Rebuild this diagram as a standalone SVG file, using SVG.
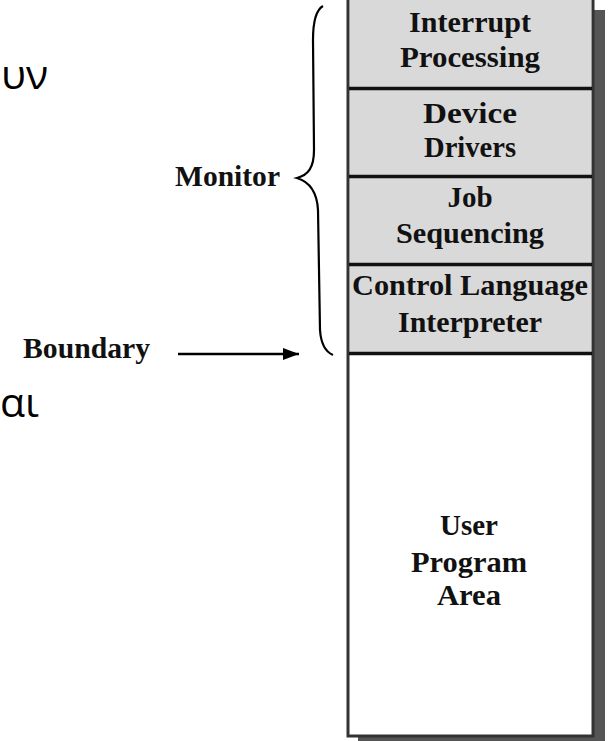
<svg xmlns="http://www.w3.org/2000/svg" width="609" height="741" viewBox="0 0 609 741">
<defs>
<marker id="ah" viewBox="0 0 16 12" refX="16" refY="6" markerWidth="16" markerHeight="12" markerUnits="userSpaceOnUse" orient="auto">
<path d="M0,0 L16,6 L0,12 Z" fill="#000"/>
</marker>
</defs>
<style>
.lbl{font-family:"Liberation Serif","Times New Roman",serif;font-weight:bold;font-size:29px;fill:#111;text-anchor:middle}
.side{font-family:"Liberation Serif","Times New Roman",serif;font-weight:bold;font-size:29px;fill:#111}
.greek{font-family:"Open Sans","Noto Sans",sans-serif;font-size:41px;fill:#000}
.seg{fill:#d9d9d9}
.div{stroke:#111;stroke-width:3.5}
</style>
<rect width="609" height="741" fill="#fff"/>
<text class="greek" x="1" y="89">υν</text>
<text class="greek" x="0" y="417">αι</text>
<g id="shadow"><rect x="358" y="10" width="247" height="731" fill="#555"/></g>
<g id="memory">
<rect x="348" y="-10" width="245" height="746" fill="#fff" stroke="#333" stroke-width="3"/>
</g>
<g id="interrupt-processing">
<rect class="seg" x="350" y="-10" width="241" height="98"/>
<text class="lbl" x="470" y="32" textLength="122" lengthAdjust="spacingAndGlyphs">Interrupt</text>
<text class="lbl" x="470" y="67" textLength="140" lengthAdjust="spacingAndGlyphs">Processing</text>
</g>
<g id="device-drivers">
<rect class="seg" x="350" y="89" width="241" height="88"/>
<text class="lbl" x="470" y="123" textLength="94" lengthAdjust="spacingAndGlyphs">Device</text>
<text class="lbl" x="470" y="157" textLength="92" lengthAdjust="spacingAndGlyphs">Drivers</text>
</g>
<g id="job-sequencing">
<rect class="seg" x="350" y="177" width="241" height="88"/>
<text class="lbl" x="470" y="207">Job</text>
<text class="lbl" x="470" y="243" textLength="148" lengthAdjust="spacingAndGlyphs">Sequencing</text>
</g>
<g id="control-language-interpreter">
<rect class="seg" x="350" y="265" width="241" height="89"/>
<text class="lbl" x="470" y="295" textLength="236" lengthAdjust="spacingAndGlyphs">Control Language</text>
<text class="lbl" x="470" y="332" textLength="144" lengthAdjust="spacingAndGlyphs">Interpreter</text>
</g>
<g id="dividers">
<line class="div" x1="349" y1="88.5" x2="592" y2="88.5"/>
<line class="div" x1="349" y1="176.5" x2="592" y2="176.5"/>
<line class="div" x1="349" y1="264.5" x2="592" y2="264.5"/>
<line class="div" x1="349" y1="353.5" x2="592" y2="353.5"/>
</g>
<g id="user-program-area">
<text class="lbl" x="469" y="535" textLength="58" lengthAdjust="spacingAndGlyphs">User</text>
<text class="lbl" x="469" y="572" textLength="116" lengthAdjust="spacingAndGlyphs">Program</text>
<text class="lbl" x="469" y="605" textLength="64" lengthAdjust="spacingAndGlyphs">Area</text>
</g>
<g id="monitor">
<text class="side" x="175" y="186" textLength="105" lengthAdjust="spacingAndGlyphs">Monitor</text>
</g>
<g id="boundary">
<text class="side" x="23" y="358" textLength="127" lengthAdjust="spacingAndGlyphs">Boundary</text>
</g>
<g id="connectors" fill="none" stroke="#000">
<path d="M323,6 C316,10 313,20 313,40 L314,150 C314,168 308,175 297,178 C310,182 317,192 318,210 L320,330 C321,345 326,352 333,355" stroke-width="2.2"/>
<line x1="178" y1="354" x2="299" y2="354" stroke-width="2.5" marker-end="url(#ah)"/>
</g>
</svg>
